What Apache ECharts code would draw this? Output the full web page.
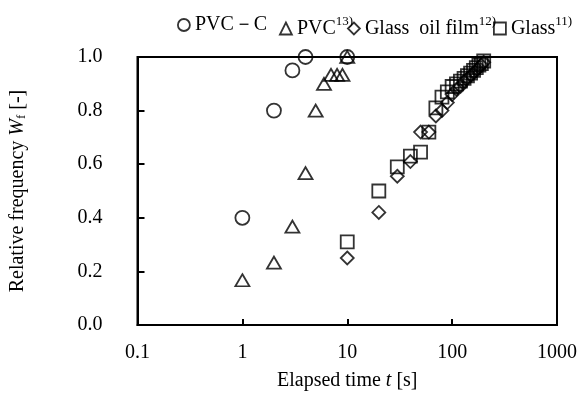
<!DOCTYPE html>
<html>
<head>
<meta charset="utf-8">
<script src="https://cdn.jsdelivr.net/npm/echarts@6/dist/echarts.min.js"></script>
<style>
html,body{margin:0;padding:0;background:#fff;}
#c{width:582px;height:399px;}
</style>
</head>
<body>
<div id="c"></div>
<script>
// ---- data ----
const xTickLabels = ['0.1', '1', '10', '100', '1000'];
const yTickLabels = ['0.0', '0.2', '0.4', '0.6', '0.8', '1.0'];

const pvcC_t = [1, 2, 3, 4, 10];
const pvcC_w = [0.40, 0.80, 0.95, 1.00, 1.00];

const pvc_t = [1, 2, 3, 4, 5, 6, 7, 8, 9, 10];
const pvc_w = [0.167, 0.233, 0.367, 0.567, 0.80, 0.90, 0.933, 0.933, 0.933, 1.00];

const oil_t = [10, 20, 30, 40, 50, 60, 70, 80, 90, 100, 110, 120, 130, 140, 150, 160, 170, 180, 190, 200];
const oil_w = [0.25, 0.42, 0.555, 0.61, 0.72, 0.72, 0.78, 0.80, 0.83, 0.86, 0.88, 0.89, 0.91, 0.92, 0.93, 0.94, 0.95, 0.96, 0.97, 0.98];

const glass_t = [10, 20, 30, 40, 50, 60, 70, 80, 90, 100, 110, 120, 130, 140, 150, 160, 170, 180, 190, 200];
const glass_w = [0.31, 0.50, 0.59, 0.63, 0.645, 0.72, 0.81, 0.85, 0.87, 0.89, 0.90, 0.91, 0.92, 0.93, 0.94, 0.95, 0.96, 0.97, 0.975, 0.985];

const seriesNames = ['PVC－C', 'PVC', 'Glass  oil film', 'Glass'];
const seriesSup = ['', '13)', '12)', '11)'];

// ---- chart ----
const FONT = '"Liberation Serif", "Times New Roman", serif';
const FS = 20;
const zip = (a, b) => a.map((v, i) => [v, b[i]]);
const mk = {color: 'rgba(0,0,0,0)', borderColor: '#000', borderWidth: 1.8};

function legendFor(i, left) {
  return {
    data: [{name: seriesNames[i], itemStyle: mk}],
    left: left, top: 10,
    itemWidth: 12, itemHeight: 12, itemGap: 0,
    selectedMode: false,
    textStyle: {
      fontFamily: FONT, fontSize: FS, color: '#000',
      rich: {
        n: {fontFamily: FONT, fontSize: FS, color: '#000'},
        s: {fontFamily: FONT, fontSize: 13, color: '#000', padding: [0, 0, 14, 0]}
      }
    },
    formatter: function (name) {
      const k = seriesNames.indexOf(name);
      return '{n|' + name + '}' + (seriesSup[k] ? '{s|' + seriesSup[k] + '}' : '');
    }
  };
}

const chart = echarts.init(document.getElementById('c'), null, {renderer: 'canvas'});
chart.setOption({
  animation: false,
  backgroundColor: '#fff',
  grid: {left: 123, right: 25, top: 57, bottom: 74, show: true, borderColor: '#000', borderWidth: 2, containLabel: false},
  legend: [legendFor(0, 172), legendFor(1, 274), legendFor(2, 342), legendFor(3, 488)],
  xAxis: {
    type: 'log', logBase: 10, min: 0.1, max: 1000,
    name: 'Elapsed time {i|t} [s]', nameLocation: 'middle', nameGap: 46,
    nameTextStyle: {fontFamily: FONT, fontSize: FS, color: '#000',
      rich: {i: {fontFamily: FONT, fontSize: FS, fontStyle: 'italic', color: '#000'}}},
    axisLine: {lineStyle: {color: '#000', width: 2}},
    axisTick: {inside: true, length: 6, lineStyle: {color: '#000', width: 2}},
    minorTick: {show: false},
    splitLine: {show: false},
    axisLabel: {fontFamily: FONT, fontSize: FS, color: '#000', margin: 18,
      formatter: function (v) {
        const k = Math.round(Math.log10(v)) + 1;
        return xTickLabels[k] !== undefined ? xTickLabels[k] : '';
      }}
  },
  yAxis: {
    type: 'value', min: 0, max: 1, interval: 0.2,
    name: '{n|Relative frequency }{i|W}{sub|f}{n| [-]}', nameLocation: 'middle', nameGap: 109,
    nameTextStyle: {fontFamily: FONT, fontSize: FS, color: '#000',
      rich: {
        n: {fontFamily: FONT, fontSize: FS, color: '#000'},
        i: {fontFamily: FONT, fontSize: FS, fontStyle: 'italic', color: '#000'},
        sub: {fontFamily: FONT, fontSize: 13, color: '#000', padding: [8, 0, 0, 0]}
      }},
    axisLine: {lineStyle: {color: '#000', width: 2}},
    axisTick: {inside: true, length: 7, lineStyle: {color: '#000', width: 2}},
    splitLine: {show: false},
    axisLabel: {fontFamily: FONT, fontSize: FS, color: '#000', margin: 35,
      formatter: function (v) {
        const k = Math.round(v / 0.2);
        return yTickLabels[k] !== undefined ? yTickLabels[k] : '';
      }}
  },
  series: [
    {name: seriesNames[0], type: 'scatter', symbol: 'circle', symbolSize: 14, itemStyle: mk, data: zip(pvcC_t, pvcC_w)},
    {name: seriesNames[1], type: 'scatter', symbol: 'triangle', symbolSize: [14, 12], itemStyle: mk, data: zip(pvc_t, pvc_w)},
    {name: seriesNames[2], type: 'scatter', symbol: 'diamond', symbolSize: 13, itemStyle: mk, data: zip(oil_t, oil_w)},
    {name: seriesNames[3], type: 'scatter', symbol: 'rect', symbolSize: 13, itemStyle: mk, data: zip(glass_t, glass_w)}
  ]
});
</script>
</body>
</html>
